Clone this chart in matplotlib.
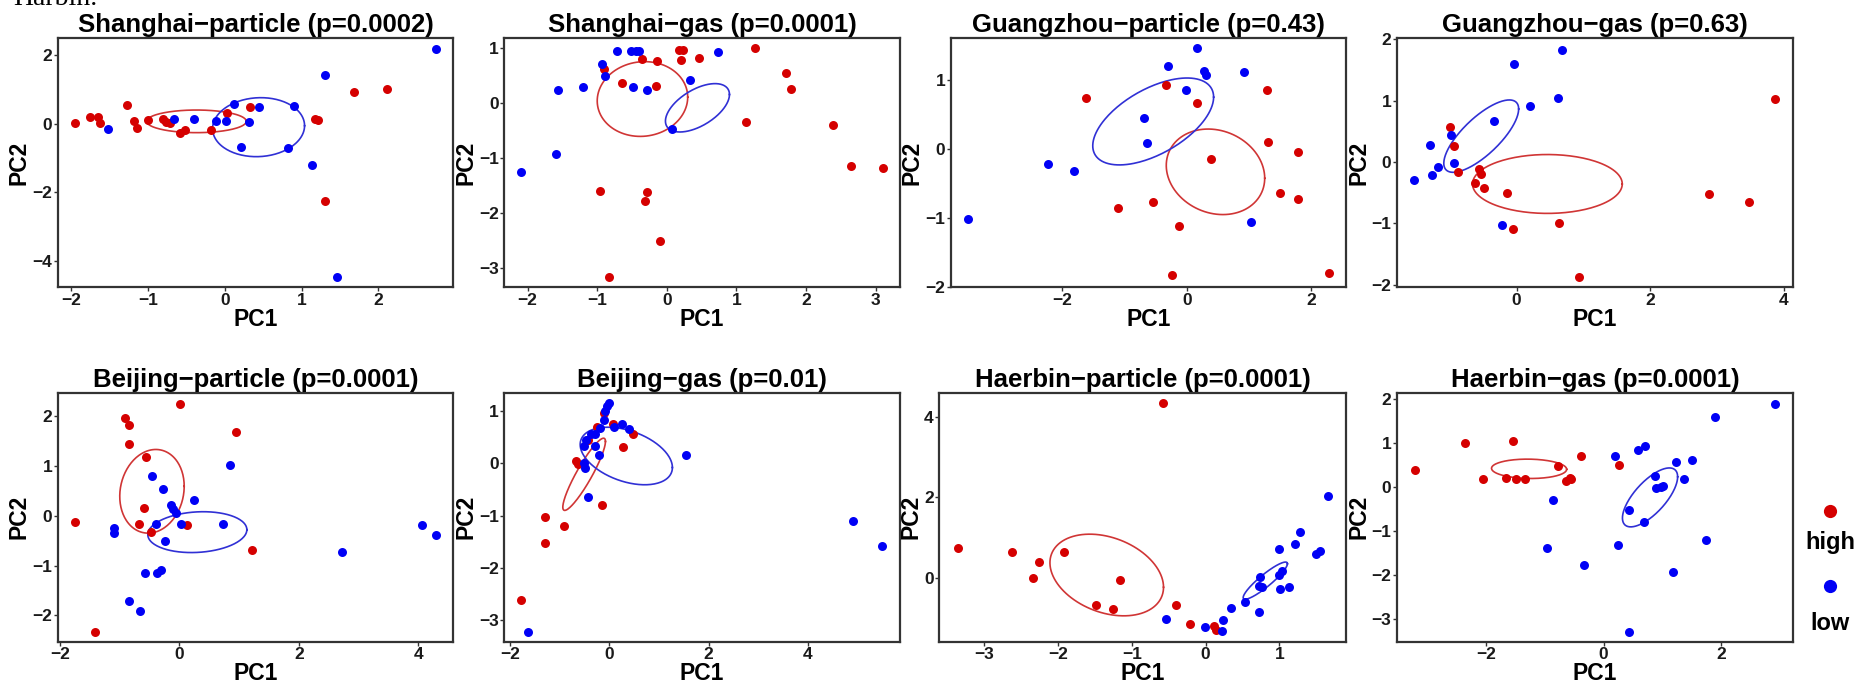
import numpy as np
import matplotlib
matplotlib.use("Agg")
import matplotlib.pyplot as plt

plt.rcParams['font.family'] = ['Liberation Sans', 'DejaVu Sans']

# ---- data: (PC1, PC2) pairs ----
sh_particle_high = [(-1.96, 0.03), (-1.76, 0.20), (-1.65, 0.20), (-1.63, 0.01), (-1.28, 0.56),
                    (-1.19, 0.09), (-1.14, -0.12), (-1.00, 0.11), (-0.81, 0.13), (-0.77, 0.06),
                    (-0.71, 0.01), (-0.58, -0.26), (-0.52, -0.17), (-0.18, -0.17), (0.03, 0.32),
                    (0.33, 0.48), (1.18, 0.14), (1.22, 0.11), (1.69, 0.93), (2.11, 1.01), (1.30, -2.25)]
sh_particle_low = [(-1.53, -0.15), (-0.66, 0.13), (-0.40, 0.13), (-0.11, 0.09), (0.01, 0.09),
                   (0.12, 0.58), (0.32, 0.04), (0.44, 0.48), (0.90, 0.53), (0.21, -0.67),
                   (0.82, -0.70), (1.14, -1.20), (1.31, 1.43), (2.76, 2.17), (1.46, -4.46)]

sh_gas_high = [(-0.90, 0.61), (-0.64, 0.37), (-0.35, 0.80), (-0.14, 0.76), (-0.15, 0.30),
               (0.17, 0.97), (0.23, 0.97), (0.21, 0.78), (0.46, 0.82), (1.27, 0.99),
               (1.71, 0.55), (1.79, 0.26), (1.14, -0.34), (2.39, -0.41), (2.65, -1.14),
               (3.10, -1.19), (-0.96, -1.60), (-0.29, -1.63), (-0.31, -1.78), (-0.10, -2.52),
               (-0.83, -3.16)]
sh_gas_low = [(-2.10, -1.26), (-1.59, -0.93), (-1.57, 0.24), (-1.21, 0.28), (-0.93, 0.71),
              (-0.89, 0.48), (-0.71, 0.95), (-0.51, 0.95), (-0.45, 0.95), (-0.40, 0.95),
              (-0.49, 0.28), (-0.29, 0.24), (0.33, 0.42), (0.73, 0.93), (0.08, -0.47)]

gz_particle_high = [(-1.62, 0.74), (-0.34, 0.93), (0.16, 0.67), (1.29, 0.86), (1.30, 0.10),
                    (1.78, -0.05), (0.39, -0.15), (1.49, -0.63), (1.78, -0.73), (-1.10, -0.85),
                    (-0.55, -0.77), (-0.12, -1.11), (-0.24, -1.83), (2.28, -1.80)]
gz_particle_low = [(-3.52, -1.02), (-2.23, -0.22), (-1.81, -0.32), (-0.68, 0.45), (-0.64, 0.09),
                   (-0.30, 1.21), (0.17, 1.46), (0.28, 1.13), (0.30, 1.08), (-0.01, 0.85),
                   (0.92, 1.11), (1.03, -1.06)]

gz_gas_high = [(-0.99, 0.57), (-0.93, 0.26), (-0.87, -0.16), (-0.56, -0.12), (-0.54, -0.20),
               (-0.63, -0.34), (-0.49, -0.43), (-0.15, -0.51), (0.64, -0.99), (-0.06, -1.10),
               (0.94, -1.88), (2.88, -0.52), (3.47, -0.65), (3.87, 1.03)]
gz_gas_low = [(-1.53, -0.29), (-1.29, 0.27), (-1.26, -0.22), (-1.18, -0.09), (-0.98, 0.44),
              (-0.94, -0.02), (-0.34, 0.67), (-0.22, -1.03), (-0.04, 1.59), (0.20, 0.91),
              (0.62, 1.04), (0.68, 1.82)]

bj_particle_high = [(-1.75, -0.12), (-1.41, -2.33), (-0.91, 1.97), (-0.84, 1.83), (-0.84, 1.43),
                    (0.01, 2.25), (0.95, 1.69), (-0.56, 1.17), (-0.59, 0.16), (-0.67, -0.16),
                    (-0.47, -0.32), (0.13, -0.19), (1.22, -0.68)]
bj_particle_low = [(-1.09, -0.24), (-1.10, -0.35), (-0.46, 0.80), (-0.28, 0.54), (-0.14, 0.22),
                   (-0.10, 0.13), (-0.06, 0.06), (-0.39, -0.17), (0.03, -0.16), (0.25, 0.31),
                   (0.73, -0.17), (-0.24, -0.51), (0.85, 1.02), (-0.57, -1.16), (-0.38, -1.16),
                   (-0.31, -1.09), (-0.84, -1.72), (-0.66, -1.91), (2.73, -0.73), (4.06, -0.19),
                   (4.30, -0.39)]

bj_gas_high = [(-1.78, -2.62), (-1.30, -1.03), (-1.30, -1.53), (-0.91, -1.20), (-0.15, -0.80),
               (-0.67, 0.04), (-0.63, -0.01), (-0.44, 0.45), (-0.26, 0.69), (-0.11, 0.97),
               (0.07, 0.75), (0.27, 0.32), (0.48, 0.57)]
bj_gas_low = [(-1.65, -3.22), (-0.44, -0.65), (-0.51, 0.00), (-0.49, -0.08), (-0.51, 0.33),
              (-0.47, 0.45), (-0.37, 0.56), (-0.29, 0.56), (-0.29, 0.34), (-0.22, 0.15),
              (-0.20, 0.67), (-0.10, 0.83), (-0.09, 1.00), (-0.05, 1.10), (-0.01, 1.16),
              (0.09, 0.69), (0.25, 0.75), (0.40, 0.65), (1.54, 0.16), (4.92, -1.10), (5.50, -1.58)]

hb_particle_high = [(-3.36, 0.76), (-2.63, 0.64), (-2.26, 0.39), (-2.34, 0.01), (-1.92, 0.64),
                    (-1.16, -0.04), (-1.48, -0.67), (-1.25, -0.75), (-0.58, 4.33), (-0.40, -0.65),
                    (-0.21, -1.12), (0.12, -1.17), (0.14, -1.28)]
hb_particle_low = [(-0.54, -1.00), (-0.01, -1.21), (0.22, -1.31), (0.23, -1.03), (0.34, -0.73),
                   (0.54, -0.59), (0.73, -0.83), (0.74, 0.02), (0.73, -0.19), (0.76, -0.21),
                   (1.00, 0.73), (1.00, 0.08), (1.04, 0.17), (1.01, -0.26), (1.13, -0.22),
                   (1.21, 0.85), (1.28, 1.15), (1.50, 0.59), (1.55, 0.68), (1.66, 2.04)]

hb_gas_high = [(-3.22, 0.38), (-2.37, 0.99), (-2.05, 0.17), (-1.54, 1.04), (-1.67, 0.19),
               (-1.49, 0.17), (-1.34, 0.17), (-0.78, 0.48), (-0.64, 0.14), (-0.58, 0.20),
               (-0.55, 0.18), (-0.39, 0.70), (0.26, 0.49)]
hb_gas_low = [(-0.86, -0.29), (-0.96, -1.40), (-0.34, -1.78), (0.20, 0.70), (0.24, -1.33),
              (0.43, -3.30), (0.43, -0.53), (0.58, 0.83), (0.71, 0.92), (0.68, -0.80),
              (0.88, 0.24), (0.90, -0.02), (0.97, 0.00), (1.01, 0.02), (1.23, 0.57),
              (1.36, 0.17), (1.51, 0.61), (1.18, -1.93), (1.75, -1.20), (1.90, 1.58), (2.92, 1.89)]

# ellipses: (centre x, centre y, half-width x, half-height y, correlation) for high / low
sh_particle_ell = [(-0.37, 0.07, 0.65, 0.33, 0.0), (0.44, -0.10, 0.60, 0.86, 0.05)]
sh_gas_ell = [(-0.35, 0.07, 0.65, 0.68, 0.05), (0.44, -0.09, 0.46, 0.44, 0.55)]
gz_particle_ell = [(0.46, -0.33, 0.79, 0.62, -0.15), (-0.54, 0.40, 0.97, 0.63, 0.56)]
gz_gas_ell = [(0.46, -0.36, 1.12, 0.48, 0.0), (-0.53, 0.42, 0.56, 0.59, 0.75)]
bj_particle_ell = [(-0.46, 0.49, 0.54, 0.84, 0.12), (0.30, -0.33, 0.83, 0.41, 0.12)]
bj_gas_ell = [(-0.51, -0.21, 0.43, 0.69, 0.91), (0.34, 0.14, 0.93, 0.55, -0.40)]
hb_particle_ell = [(-1.34, 0.08, 0.77, 1.01, -0.30), (0.81, -0.06, 0.30, 0.46, 0.91)]
hb_gas_ell = [(-1.27, 0.41, 0.64, 0.22, -0.05), (0.79, -0.24, 0.47, 0.67, 0.70)]

titles = ["Shanghai\u2212particle (p=0.0002)", "Shanghai\u2212gas (p=0.0001)",
          "Guangzhou\u2212particle (p=0.43)", "Guangzhou\u2212gas (p=0.63)",
          "Beijing\u2212particle (p=0.0001)", "Beijing\u2212gas (p=0.01)",
          "Haerbin\u2212particle (p=0.0001)", "Haerbin\u2212gas (p=0.0001)"]
high_sets = [sh_particle_high, sh_gas_high, gz_particle_high, gz_gas_high,
             bj_particle_high, bj_gas_high, hb_particle_high, hb_gas_high]
low_sets = [sh_particle_low, sh_gas_low, gz_particle_low, gz_gas_low,
            bj_particle_low, bj_gas_low, hb_particle_low, hb_gas_low]
ellipses = [sh_particle_ell, sh_gas_ell, gz_particle_ell, gz_gas_ell,
            bj_particle_ell, bj_gas_ell, hb_particle_ell, hb_gas_ell]
xticks = [[-2, -1, 0, 1, 2], [-2, -1, 0, 1, 2, 3], [-2, 0, 2], [0, 2, 4],
          [-2, 0, 2, 4], [-2, 0, 2, 4], [-3, -2, -1, 0, 1], [-2, 0, 2]]
yticks = [[-4, -2, 0, 2], [-3, -2, -1, 0, 1], [-2, -1, 0, 1], [-2, -1, 0, 1, 2],
          [-2, -1, 0, 1, 2], [-3, -2, -1, 0, 1], [0, 2, 4], [-3, -2, -1, 0, 1, 2]]
xlims = [(-2.18, 2.98), (-2.335, 3.35), (-3.79, 2.55), (-1.79, 4.13),
         (-2.04, 4.59), (-2.12, 5.86), (-3.61, 1.90), (-3.52, 3.22)]
ylims = [(-4.76, 2.5), (-3.35, 1.18), (-2.0, 1.61), (-2.04, 2.02),
         (-2.53, 2.47), (-3.41, 1.35), (-1.57, 4.59), (-3.52, 2.14)]

RED = '#D50000'
BLUE = '#0000F5'
RED_L = '#D03535'
BLUE_L = '#3030D5'

W, H = 1865, 684
fig = plt.figure(figsize=(W / 100, H / 100), dpi=100)

# panel boxes in pixels: left, top, width, height
boxes = [(57.7, 38, 395.6, 249), (504.3, 38, 395.7, 249), (950.7, 38, 395.0, 249), (1397, 38, 395.7, 249),
         (57.7, 392.7, 395.6, 249), (504.3, 392.7, 395.7, 249), (939.3, 392.7, 406.4, 249), (1397, 392.7, 395.7, 249)]


def ellipse_xy(cx, cy, rx, ry, rho):
    t = np.linspace(0, 2 * np.pi, 200)
    phi = np.arccos(rho)
    return cx + rx * np.cos(t), cy + ry * np.cos(t - phi)


for i in range(8):
    l, t, w, h = boxes[i]
    ax = fig.add_axes([l / W, 1 - (t + h) / H, w / W, h / H])
    hx, hy = zip(*high_sets[i])
    lx, ly = zip(*low_sets[i])
    ax.scatter(hx, hy, s=42, color=RED, linewidths=0, zorder=3)
    ax.scatter(lx, ly, s=42, color=BLUE, linewidths=0, zorder=3)
    for (cx, cy, rx, ry, rho), c in zip(ellipses[i], [RED_L, BLUE_L]):
        ex, ey = ellipse_xy(cx, cy, rx, ry, rho)
        ax.plot(ex, ey, color=c, lw=1.2, zorder=2)
    ax.set_xlim(*xlims[i])
    ax.set_ylim(*ylims[i])
    ax.set_xticks(xticks[i])
    ax.set_yticks(yticks[i])
    ax.set_title(titles[i], fontsize=18.5, fontweight='bold', pad=4)
    ax.set_xlabel('PC1', fontsize=16.5, fontweight='bold', labelpad=0)
    ax.set_ylabel('PC2', fontsize=16.5, fontweight='bold', labelpad=1)
    ax.tick_params(length=3, width=1, color='#333333', pad=1, labelsize=12.5)
    for lab in ax.get_xticklabels() + ax.get_yticklabels():
        lab.set_fontweight('bold')
        lab.set_color('#1a1a1a')
    for sp in ax.spines.values():
        sp.set_linewidth(1.6)
        sp.set_color('#333333')

# legend on the right
lax = fig.add_axes([1805 / W, 1 - 660 / H, 50 / W, 180 / H])
lax.set_xlim(0, 1)
lax.set_ylim(660, 480)
lax.axis('off')
lax.plot([0.5], [510.7], 'o', color=RED, ms=9.5, mec='none')
lax.plot([0.5], [586], 'o', color=BLUE, ms=9.5, mec='none')
lax.text(0.5, 543, 'high', ha='center', va='center', fontsize=17, fontweight='bold')
lax.text(0.5, 624, 'low', ha='center', va='center', fontsize=17, fontweight='bold')

# caption text cut off at the top edge, as in the source image
fig.text(13 / W, 1 - 5 / H, 'Harbin.', family='Liberation Serif', fontsize=20, va='baseline', ha='left')

fig.savefig('out.png', dpi=100)
